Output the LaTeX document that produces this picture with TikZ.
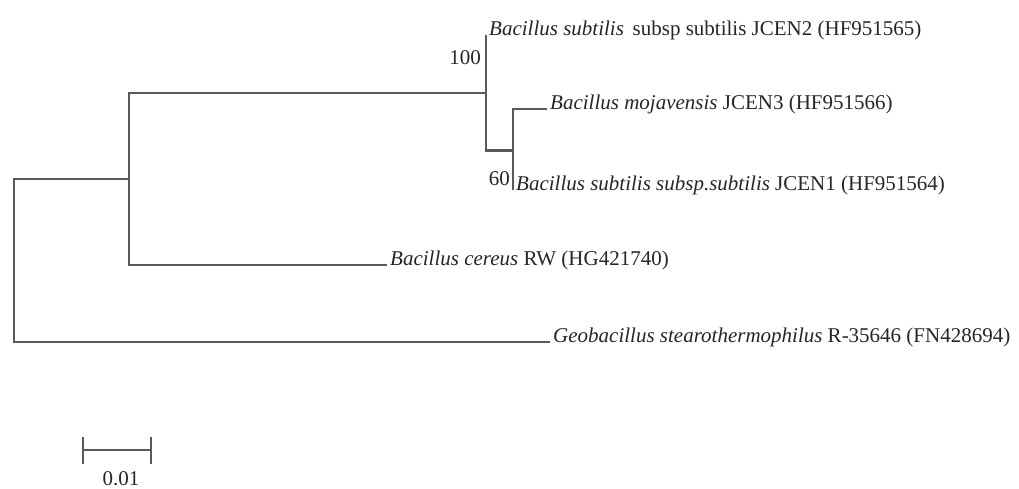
\documentclass[tikz,border=0pt]{standalone}
\usepackage{fontspec}
\setmainfont{Liberation Serif}
\usetikzlibrary{arrows.meta, positioning, calc}
\tikzset{
    x=1pt,
    y=-1pt,
    font=\fontsize{21}{24}\selectfont,
    tree_branch/.style={
        draw=black!65,
        line width=2.1pt
    },
    tree_leaf/.style={
        anchor=base west,
        inner sep=3pt,
        text=black!85
    },
    tree_boot/.style={
        anchor=east,
        inner sep=1pt,
        text=black!85
    },
    tree_scale/.style={
        draw=black!65,
        line width=2.1pt,
        {Bar[width=27pt, line width=2.1pt]}-{Bar[width=27pt, line width=2.1pt]}
    }
}

\begin{document}
\begin{tikzpicture}
\useasboundingbox[fill=white] (0,0) rectangle (1019,488);

% --- Internal nodes ---
\coordinate (root) at (14,260.5);
\coordinate (n1) at (129,179);
\coordinate (n2) at (486,93);
\coordinate (n3) at (513,150.5);

% --- Leaves ---
\node[tree_leaf] (jcen2) at (486,35) {\textit{Bacillus subtilis}\, subsp subtilis JCEN2 (HF951565)};
\node[tree_leaf] (mojav) at (547,109) {\textit{Bacillus mojavensis} JCEN3 (HF951566)};
\node[tree_leaf] (jcen1) at (513,190) {\textit{Bacillus subtilis subsp.subtilis} JCEN1 (HF951564)};
\node[tree_leaf] (cereus) at (387,265) {\textit{Bacillus cereus} RW (HG421740)};
\node[tree_leaf] (geo) at (550,342) {\textit{Geobacillus stearothermophilus} R-35646 (FN428694)};

% --- Bootstrap values ---
\node[tree_boot] (boot100) at (482,58) {100};
\node[tree_boot] (boot60) at (511,179) {60};

% --- Branches ---
\draw[tree_branch] (root) |- (n1);
\draw[tree_branch] (root) |- (geo.base west);
\draw[tree_branch] (n1) |- (n2);
\draw[tree_branch] (n1) |- (cereus.base west);
\draw[tree_branch] (n2) |- (jcen2.base west);
\draw[tree_branch] (n2) |- (n3);
\draw[tree_branch] (n3) |- (mojav.base west);
\draw[tree_branch] (n3) |- (jcen1.base west);

% --- Scale bar ---
\coordinate (sbL) at (82,450);
\coordinate (sbR) at (152,450);
\draw[tree_scale] (sbL) -- (sbR);
\node[anchor=base, text=black!85] (sbLab) at (121,485) {0.01};

\end{tikzpicture}
\end{document}
